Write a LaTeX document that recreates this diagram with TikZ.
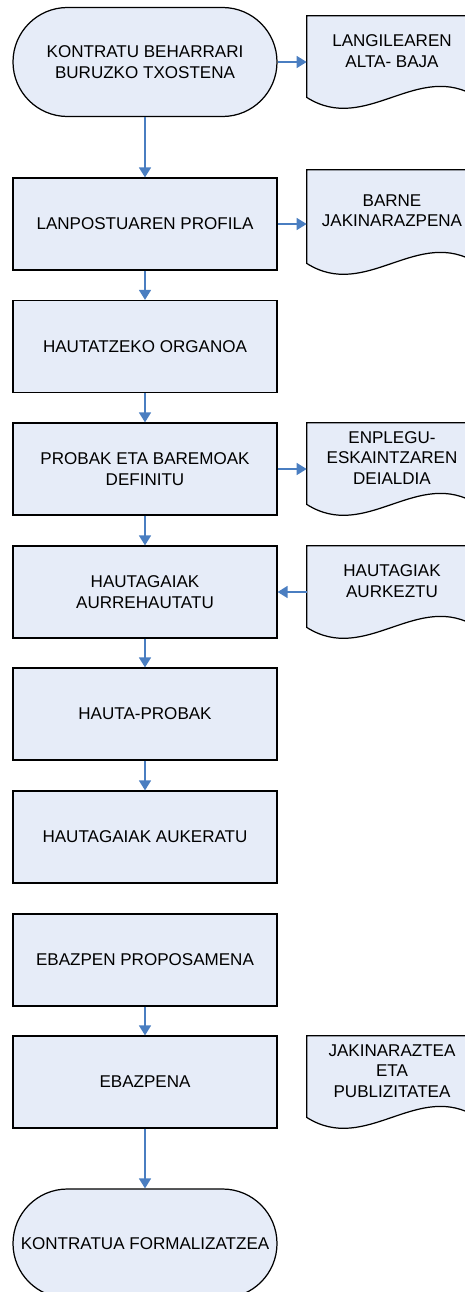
\documentclass[tikz,border=0pt]{standalone}
\usepackage{fontspec}
\setmainfont{Liberation Sans}
\usetikzlibrary{arrows.meta,backgrounds}
\definecolor{boxfill}{RGB}{230,236,248}
\definecolor{flowblue}{RGB}{74,126,193}

\begin{document}
\begin{tikzpicture}[
        font=\fontsize{9.7}{11.6}\selectfont,
        proc/.style={rectangle, draw, fill=boxfill, line width=0.7pt, minimum width=5.28cm, minimum height=1.84cm, align=center, inner sep=1pt},
        term/.style={proc, rounded corners=1.09cm, minimum height=2.18cm},
        doc/.style={rectangle, minimum width=3.4cm, minimum height=1.4cm, align=center, inner sep=1pt},
        docline/.style={draw, fill=boxfill, line width=0.7pt},
        flow/.style={-{Triangle[length=0.2cm,width=0.24cm]}, flowblue, line width=0.9pt}
    ]
        \useasboundingbox (0,0) rectangle (9.3,-25.84);

        % Hasiera
        \node[term] (txosten) at (2.9,-1.24) {KONTRATU BEHARRARI\\BURUZKO TXOSTENA};

        % Prozesuak
        \node[proc] (profila) at (2.9,-4.48) {LANPOSTUAREN PROFILA};
        \node[proc] (organoa) at (2.9,-6.93) {HAUTATZEKO ORGANOA};
        \node[proc] (probak) at (2.9,-9.38) {PROBAK ETA BAREMOAK\\DEFINITU};
        \node[proc] (aurre) at (2.9,-11.84) {HAUTAGAIAK\\AURREHAUTATU};
        \node[proc] (hauta) at (2.9,-14.28) {HAUTA-PROBAK};
        \node[proc] (aukeratu) at (2.9,-16.74) {HAUTAGAIAK AUKERATU};
        \node[proc] (proposamena) at (2.9,-19.20) {EBAZPEN PROPOSAMENA};
        \node[proc] (ebazpena) at (2.9,-21.64) {EBAZPENA};

        % Amaiera
        \node[term] (formal) at (2.9,-24.87) {KONTRATUA FORMALIZATZEA};

        % Dokumentuak
        \node[doc] (altabaja) at (7.84,-1.02) {LANGILEAREN\\ALTA- BAJA};
        \node[doc, minimum height=1.64cm] (barne) at (7.84,-4.22) {BARNE\\JAKINARAZPENA};
        \node[doc] (deialdia) at (7.84,-9.16) {ENPLEGU-\\ESKAINTZAREN\\DEIALDIA};
        \node[doc] (aurkeztu) at (7.84,-11.62) {HAUTAGIAK\\AURKEZTU};
        \node[doc] (publi) at (7.84,-21.42) {JAKINARAZTEA\\ETA\\PUBLIZITATEA};

        \begin{scope}[on background layer]
            \foreach \d in {altabaja,barne,deialdia,aurkeztu,publi}
                \draw[docline] (\d.north west) -- (\d.north east) -- ([yshift=-0.22cm]\d.south east)
                    .. controls ([xshift=-1.19cm,yshift=0.54cm]\d.south east) and ([xshift=1.19cm,yshift=-0.98cm]\d.south west)
                    .. ([yshift=-0.22cm]\d.south west) -- cycle;
        \end{scope}

        % Fluxua
        \draw[flow] (txosten) -- (profila);
        \draw[flow] (profila) -- (organoa);
        \draw[flow] (organoa) -- (probak);
        \draw[flow] (probak) -- (aurre);
        \draw[flow] (aurre) -- (hauta);
        \draw[flow] (hauta) -- (aukeratu);
        \draw[flow] (proposamena) -- (ebazpena);
        \draw[flow] (ebazpena) -- (formal);

        % Alboko geziak
        \draw[flow] (txosten.east) -- (txosten.east -| altabaja.west);
        \draw[flow] (profila.east) -- (profila.east -| barne.west);
        \draw[flow] (probak.east) -- (probak.east -| deialdia.west);
        \draw[flow] (aurre.east -| aurkeztu.west) -- (aurre.east);
    \end{tikzpicture}
\end{document}
